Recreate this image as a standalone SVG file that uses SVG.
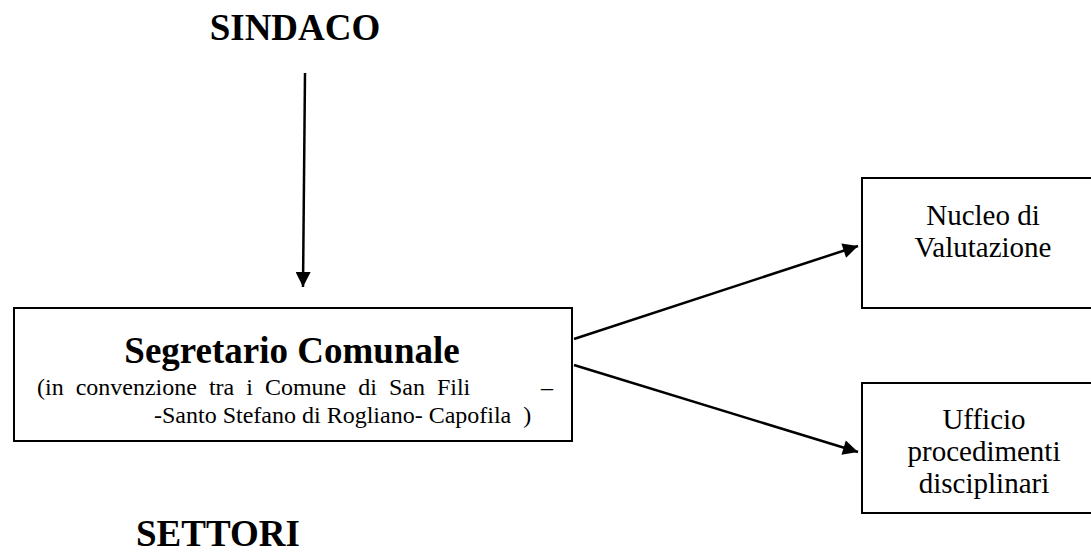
<svg xmlns="http://www.w3.org/2000/svg" width="1091" height="552" viewBox="0 0 1091 552">
<style>
.box{fill:#fff;stroke:#000;stroke-width:2}
.t{font-family:"Liberation Serif","Times New Roman",serif;fill:#000}
.b{font-weight:bold;font-size:37px}
.n{font-size:29px}
.s{font-size:24px}
.c{stroke:#000;stroke-width:2.5;fill:none}
</style>
<defs>
<marker id="ah" viewBox="0 0 10 10" refX="10" refY="5" markerWidth="7" markerHeight="6" markerUnits="strokeWidth" orient="auto">
<path d="M0,0 L10,5 L0,10 Z" fill="#000"/>
</marker>
</defs>
<g id="sindaco"><text class="t b" x="295" y="40" text-anchor="middle">SINDACO</text></g>
<g id="segretario">
<rect class="box" x="14" y="308" width="558" height="133"/>
<text class="t b" x="292" y="363" text-anchor="middle">Segretario Comunale</text>
<text class="t s" x="37" y="395" word-spacing="6">(in convenzione tra i Comune di San Fili</text>
<text class="t s" x="541" y="395">–</text>
<text class="t s" x="154" y="423" xml:space="preserve">-Santo Stefano di Rogliano- Capofila  )</text>
</g>
<g id="nucleo">
<rect class="box" x="862" y="178" width="245" height="130"/>
<text class="t n" x="983" y="225" text-anchor="middle">Nucleo di</text>
<text class="t n" x="983" y="257" text-anchor="middle">Valutazione</text>
</g>
<g id="ufficio">
<rect class="box" x="862" y="383" width="245" height="130"/>
<text class="t n" x="984" y="429" text-anchor="middle">Ufficio</text>
<text class="t n" x="984" y="461" text-anchor="middle">procedimenti</text>
<text class="t n" x="984" y="493" text-anchor="middle">disciplinari</text>
</g>
<g id="settori"><text class="t b" x="136" y="546">SETTORI</text></g>
<g id="connectors">
<line class="c" x1="305" y1="73" x2="303" y2="287" marker-end="url(#ah)"/>
<line class="c" x1="574" y1="339" x2="858" y2="246" marker-end="url(#ah)"/>
<line class="c" x1="574" y1="365" x2="858" y2="452" marker-end="url(#ah)"/>
</g>
</svg>
